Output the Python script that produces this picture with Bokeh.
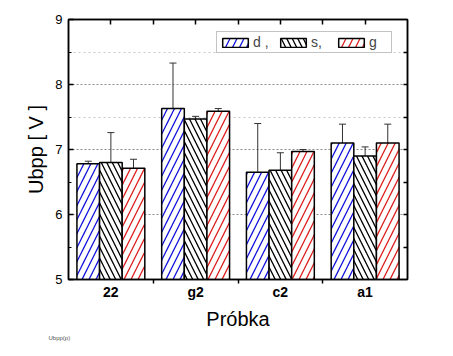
import numpy as np
from bokeh.plotting import figure
from bokeh.models import (Range1d, LinearAxis, FixedTicker, Whisker, TeeHead,
                          Legend, LegendItem, Title, ColumnDataSource)
from bokeh.embed import file_html
from bokeh.resources import INLINE

# ---- data ----
samples = ["22", "g2", "c2", "a1"]
series = ["d ,", "s,", "g"]
d_vals = [6.78, 7.63, 6.65, 7.10]
d_err = [0.04, 0.70, 0.75, 0.29]
s_vals = [6.80, 7.47, 6.68, 6.90]
s_err = [0.46, 0.04, 0.27, 0.14]
g_vals = [6.71, 7.59, 6.97, 7.10]
g_err = [0.14, 0.04, 0.03, 0.29]

FONT = "Liberation Sans"

p = figure(width=453, height=356, x_range=Range1d(0.5, 4.5), y_range=Range1d(5, 9),
           output_backend="svg", toolbar_location=None,
           min_border_left=68, min_border_right=46, min_border_top=19, min_border_bottom=77)
p.background_fill_color = "white"
p.border_fill_color = "white"
p.outline_line_color = "black"
p.outline_line_width = 1.5

# grid
p.xgrid.visible = False
p.ygrid.ticker = FixedTicker(ticks=[6, 7, 8], minor_ticks=[7.5, 8.5])
p.ygrid.grid_line_color = "#8a8a8a"
p.ygrid.grid_line_dash = "2 2"
p.ygrid.grid_line_width = 1
p.ygrid.minor_grid_line_color = "#c8c8c8"
p.ygrid.minor_grid_line_dash = "2 3"

# bottom axis
xa = p.xaxis[0]
xa.ticker = FixedTicker(ticks=[1, 2, 3, 4], minor_ticks=[1.5, 2.5, 3.5])
xa.major_label_overrides = {i + 1: s for i, s in enumerate(samples)}
xa.major_tick_line_color = None
xa.major_tick_out = 0
xa.major_tick_in = 0
xa.minor_tick_out = 4
xa.minor_tick_in = 0
xa.minor_tick_line_width = 1.5
xa.minor_tick_line_color = "black"
xa.axis_line_width = 1.5
xa.axis_line_color = "black"
xa.major_label_standoff = 0
xa.major_label_text_font = FONT
xa.major_label_text_font_style = "bold"
xa.major_label_text_font_size = "14px"
xa.major_label_text_color = "black"
xa.axis_label = "Próbka"
xa.axis_label_text_font = FONT
xa.axis_label_text_font_style = "normal"
xa.axis_label_text_font_size = "20px"
xa.axis_label_text_color = "black"
xa.axis_label_standoff = 5

# left axis
ya = p.yaxis[0]
ya.ticker = FixedTicker(ticks=[5, 6, 7, 8, 9], minor_ticks=[5.5, 6.5, 7.5, 8.5])
ya.major_tick_in = 5
ya.major_tick_out = 0
ya.minor_tick_in = 3
ya.minor_tick_out = 0
ya.major_tick_line_width = 1.5
ya.major_tick_line_color = "black"
ya.minor_tick_line_color = "black"
ya.axis_line_width = 1.5
ya.axis_line_color = "black"
ya.major_label_standoff = 6
ya.major_label_text_font = FONT
ya.major_label_text_font_size = "13px"
ya.major_label_text_color = "black"
ya.axis_label = "Ubpp [ V ]"
ya.axis_label_text_font = FONT
ya.axis_label_text_font_style = "normal"
ya.axis_label_text_font_size = "20px"
ya.axis_label_text_color = "black"
ya.axis_label_standoff = 5

# top axis (ticks only, drawn as minor ticks so no labels exist)
top = LinearAxis(ticker=FixedTicker(ticks=[], minor_ticks=[1, 1.5, 2, 2.5, 3, 3.5, 4]),
                 major_tick_in=0, major_tick_out=0, minor_tick_in=5, minor_tick_out=0,
                 major_label_standoff=0, axis_line_width=1.5, axis_line_color="black",
                 minor_tick_line_width=1.5, minor_tick_line_color="black")
p.add_layout(top, "above")
# right axis (ticks only)
right = LinearAxis(ticker=FixedTicker(ticks=[], minor_ticks=[5.5, 6, 6.5, 7, 7.5, 8, 8.5]),
                   major_tick_in=0, major_tick_out=0, minor_tick_in=4, minor_tick_out=0,
                   major_label_standoff=0, axis_line_width=1.5, axis_line_color="black",
                   minor_tick_line_width=1.5, minor_tick_line_color="black")
p.add_layout(right, "right")

# bars
w = 0.267
offsets = [-w, 0.0, w]
vals = [d_vals, s_vals, g_vals]
errs = [d_err, s_err, g_err]
colors = ["#1010dd", "black", "#dd1c1c"]
patterns = ["/", "\\", "/"]
scales = [14, 11, 14]
base = np.arange(1, len(samples) + 1)
items = []
for i in range(3):
    xs = base + offsets[i]
    v = np.array(vals[i])
    e = np.array(errs[i])
    src = ColumnDataSource(dict(x=xs, top=v, up=v + e, lo=v - e))
    r = p.vbar(x="x", top="top", bottom=5, width=w, source=src,
               fill_color="white", hatch_pattern=patterns[i], hatch_color=colors[i],
               hatch_scale=scales[i], hatch_weight=1.3,
               line_color="black", line_width=1.5)
    items.append(LegendItem(label=series[i], renderers=[r]))
    wh = Whisker(base="x", upper="up", lower="lo", source=src,
                 line_color="#333333", line_width=1,
                 upper_head=TeeHead(size=7, line_color="#333333", line_width=1),
                 lower_head=TeeHead(size=7, line_color="#333333", line_width=1))
    p.add_layout(wh)

legend = Legend(items=items, orientation="horizontal", location=(148, 226),
                glyph_width=32, glyph_height=11, label_standoff=2, spacing=4,
                padding=2, margin=0, label_height=11,
                border_line_color="#888888", border_line_width=1,
                label_text_font=FONT, label_text_font_size="14px",
                background_fill_alpha=1.0)
p.add_layout(legend)

note = Title(text="Ubpp(p)", align="left", offset=-20, standoff=-16,
             text_font=FONT, text_font_size="6px", text_font_style="normal",
             text_color="#555555")
p.add_layout(note, "below")

open("out.html", "w").write(file_html(p, INLINE))
